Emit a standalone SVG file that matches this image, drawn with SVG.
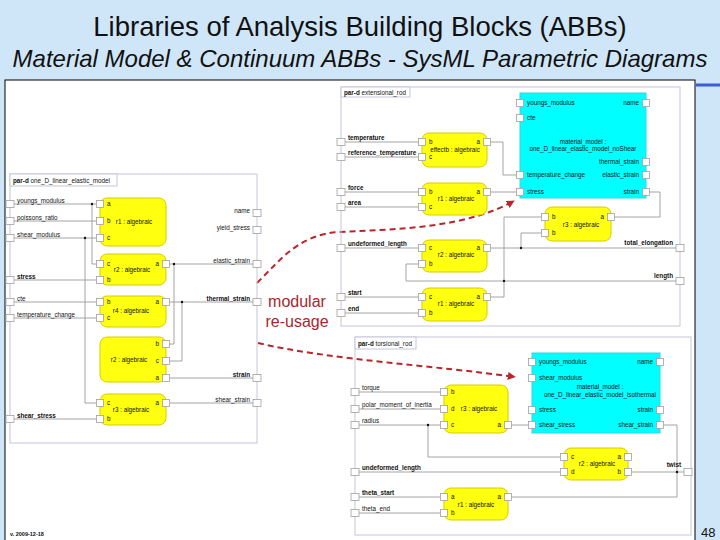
<svg xmlns="http://www.w3.org/2000/svg" width="720" height="540" viewBox="0 0 720 540">
<defs>
<style>
.fr{fill:none;stroke:#c6c6da;stroke-width:1}
.tab{fill:#fff;stroke:#c6c6da;stroke-width:1}
.blk{fill:#ffff10;stroke:#d8cc00;stroke-width:1}
.cy{fill:#00ffff;stroke:#30d8e0;stroke-width:1}
.pt{fill:#fff;stroke:#a0a0a0;stroke-width:0.8}
.w{fill:none;stroke:#9a9a9a;stroke-width:0.9}
.t{font-family:'Liberation Sans',Arial,sans-serif;font-size:6.3px;fill:#111}
.e{text-anchor:end}
.m{text-anchor:middle}
.b{font-weight:bold}
.dot{fill:#111}
.arr{fill:none;stroke:#b8262a;stroke-width:2;stroke-dasharray:6 4}
.red{font-family:'Liberation Sans',Arial,sans-serif;font-size:16px;fill:#a8262c;text-anchor:middle}
</style>
<marker id="ah" viewBox="0 0 10 10" refX="9" refY="5" markerWidth="4" markerHeight="4" orient="auto" markerUnits="strokeWidth"><path d="M0,0 L10,5 L0,10 z" fill="#b8262a"/></marker>
</defs>
<rect x="0" y="0" width="720" height="540" fill="#cfe6f9"/>
<text x="360" y="36" font-family="'Liberation Sans',Arial,sans-serif" font-size="27.5" fill="#111" text-anchor="middle">Libraries of Analysis Building Blocks (ABBs)</text>
<text x="360" y="67" font-family="'Liberation Sans',Arial,sans-serif" font-size="24" font-style="italic" fill="#111" text-anchor="middle">Material Model &amp; Continuum ABBs - SysML Parametric Diagrams</text>
<rect x="5" y="80" width="690" height="470" fill="#fff" stroke="#000" stroke-width="1"/>
<line x1="696" y1="85" x2="720" y2="85" stroke="#3a5fd0" stroke-width="3"/>
<text x="701" y="537" font-family="'Liberation Sans',Arial,sans-serif" font-size="13" fill="#111">48</text>
<text x="10" y="536" font-family="'Liberation Sans',Arial,sans-serif" font-size="5.5" font-weight="bold" fill="#111">v. 2009-12-18</text>

<g id="connectors">
<path class="w" d="M14,204 H96 M92,204 V264 H96 M14,221 H96 M14,238 H96 M85,238 V403 H96 M14,280 H96 M14,302 H96 M14,318 H96 M14,419 H96"/>
<path class="w" d="M170,264 H253 M174,264 V344 H170 M170,302 H253 M182,302 V361 H170 M170,378 H253 M170,403 H253"/>
<circle class="dot" cx="92" cy="204" r="1.2"/><circle class="dot" cx="85" cy="238" r="1.2"/>
<circle class="dot" cx="174" cy="264" r="1.2"/><circle class="dot" cx="182" cy="302" r="1.2"/>
<path class="w" d="M345,142 H418 M345,157 H418 M345,192 H418 M345,207 H418 M345,248 H418 M345,297 H418 M345,313 H418"/>
<path class="w" d="M491,142 H503 V175 H516 M491,192 H516 M650,192 H660 V217 H615 M491,248 H676 M521,248 V233 H541 M418,264 H406 V281 H676 M491,297 H504 V217 H541"/>
<circle class="dot" cx="521" cy="248" r="1.2"/><circle class="dot" cx="504" cy="281" r="1.2"/>
<path class="w" d="M359,392 H440 M359,409 H440 M359,425 H440 M428,425 V457 H560 M359,472 H560 M359,497 H440 M359,513 H440"/>
<path class="w" d="M512,425 H528 M664,425 H677 V497 H512 M632,472 H684"/>
<circle class="dot" cx="428" cy="425" r="1.2"/><circle class="dot" cx="677" cy="472" r="1.2"/>
<path class="arr" marker-end="url(#ah)" d="M257,283 C282,258 300,234 340,232 C400,229 465,228 514,201"/>
<path class="arr" marker-end="url(#ah)" d="M258,343 C330,360 440,366 515,377"/>
</g>
<text class="red" x="297" y="307">modular</text>
<text class="red" x="297" y="327">re-usage</text>

<g id="one_D_linear_elastic_model">
<rect class="fr" x="10" y="174" width="247" height="269"/>
<rect class="tab" x="10" y="174" width="107" height="12"/>
<text class="t" x="13" y="182.5"><tspan class="b">par-d</tspan> one_D_linear_elastic_model</text>
<rect class="pt" x="6" y="200.5" width="8" height="7"/><text class="t" x="17" y="202.5">youngs_modulus</text>
<rect class="pt" x="6" y="217.5" width="8" height="7"/><text class="t" x="17" y="219.5">poissons_ratio</text>
<rect class="pt" x="6" y="234.5" width="8" height="7"/><text class="t" x="17" y="236.5">shear_modulus</text>
<rect class="pt" x="6" y="276.5" width="8" height="7"/><text class="t b" x="17" y="278.5">stress</text>
<rect class="pt" x="6" y="298.5" width="8" height="7"/><text class="t" x="17" y="300.5">cte</text>
<rect class="pt" x="6" y="314.5" width="8" height="7"/><text class="t" x="17" y="316.5">temperature_change</text>
<rect class="pt" x="6" y="415.5" width="8" height="7"/><text class="t b" x="17" y="417.5">shear_stress</text>
<rect class="pt" x="253" y="209.5" width="8" height="7"/><text class="t e" x="250" y="213">name</text>
<rect class="pt" x="253" y="226.5" width="8" height="7"/><text class="t e" x="250" y="230">yield_stress</text>
<rect class="pt" x="253" y="260.5" width="8" height="7"/><text class="t e" x="250" y="262.5">elastic_strain</text>
<rect class="pt" x="253" y="298.5" width="8" height="7"/><text class="t e b" x="250" y="300.5">thermal_strain</text>
<rect class="pt" x="253" y="374.5" width="8" height="7"/><text class="t e b" x="250" y="376.5">strain</text>
<rect class="pt" x="253" y="399.5" width="8" height="7"/><text class="t e" x="250" y="401.5">shear_strain</text>
</g>
<g id="L_r1">
<rect class="blk" x="100" y="198" width="66" height="48" rx="7"/>
<rect class="pt" x="96.5" y="200.5" width="7" height="7"/><text class="t" x="107" y="206">a</text>
<rect class="pt" x="96.5" y="217.5" width="7" height="7"/><text class="t" x="107" y="223">b</text>
<rect class="pt" x="96.5" y="234.5" width="7" height="7"/><text class="t" x="107" y="240">c</text>
<text class="t m" x="134" y="224">r1 : algebraic</text>
</g>
<g id="L_r2">
<rect class="blk" x="100" y="254" width="66" height="31" rx="7"/>
<rect class="pt" x="96.5" y="260.5" width="7" height="7"/><text class="t" x="107" y="266">c</text>
<rect class="pt" x="96.5" y="276.5" width="7" height="7"/><text class="t" x="107" y="282">b</text>
<rect class="pt" x="162.5" y="260.5" width="7" height="7"/><text class="t e" x="159" y="266">a</text>
<text class="t m" x="132" y="272">r2 : algebraic</text>
</g>
<g id="L_r4">
<rect class="blk" x="100" y="296" width="66" height="31" rx="7"/>
<rect class="pt" x="96.5" y="298.5" width="7" height="7"/><text class="t" x="107" y="304">b</text>
<rect class="pt" x="96.5" y="314.5" width="7" height="7"/><text class="t" x="107" y="320">c</text>
<rect class="pt" x="162.5" y="298.5" width="7" height="7"/><text class="t e" x="159" y="304">a</text>
<text class="t m" x="131" y="313">r4 : algebraic</text>
</g>
<g id="L_r3">
<rect class="blk" x="100" y="337" width="66" height="45" rx="7"/>
<rect class="pt" x="162.5" y="340.5" width="7" height="7"/><text class="t e" x="159" y="346">b</text>
<rect class="pt" x="162.5" y="357.5" width="7" height="7"/><text class="t e" x="159" y="363">c</text>
<rect class="pt" x="162.5" y="374.5" width="7" height="7"/><text class="t e" x="159" y="380">a</text>
<text class="t m" x="129" y="362">r2 : algebraic</text>
</g>
<g id="L_r5">
<rect class="blk" x="100" y="394" width="66" height="31" rx="7"/>
<rect class="pt" x="96.5" y="399.5" width="7" height="7"/><text class="t" x="107" y="405">c</text>
<rect class="pt" x="96.5" y="415.5" width="7" height="7"/><text class="t" x="107" y="421">b</text>
<rect class="pt" x="162.5" y="399.5" width="7" height="7"/><text class="t e" x="159" y="405">a</text>
<text class="t m" x="131" y="412">r3 : algebraic</text>
</g>

<g id="extensional_rod">
<rect class="fr" x="341" y="87" width="339" height="239"/>
<rect class="tab" x="341" y="87" width="69" height="10"/>
<text class="t" x="344" y="94.5"><tspan class="b">par-d</tspan> extensional_rod</text>
<rect class="pt" x="337" y="138.5" width="8" height="7"/><text class="t b" x="348" y="140">temperature</text>
<rect class="pt" x="337" y="153.5" width="8" height="7"/><text class="t b" x="348" y="155">reference_temperature</text>
<rect class="pt" x="337" y="188.5" width="8" height="7"/><text class="t b" x="348" y="190">force</text>
<rect class="pt" x="337" y="203.5" width="8" height="7"/><text class="t b" x="348" y="205">area</text>
<rect class="pt" x="337" y="244.5" width="8" height="7"/><text class="t b" x="348" y="246">undeformed_length</text>
<rect class="pt" x="337" y="293.5" width="8" height="7"/><text class="t b" x="348" y="295">start</text>
<rect class="pt" x="337" y="309.5" width="8" height="7"/><text class="t b" x="348" y="311">end</text>
<rect class="pt" x="676" y="244.5" width="8" height="7"/><text class="t e b" x="673" y="245">total_elongation</text>
<rect class="pt" x="676" y="277.5" width="8" height="7"/><text class="t e b" x="673" y="278">length</text>
</g>
<g id="E_effect">
<rect class="blk" x="422" y="133" width="65" height="34" rx="7"/>
<rect class="pt" x="418.5" y="138.5" width="7" height="7"/><text class="t" x="429" y="144">b</text>
<rect class="pt" x="418.5" y="153.5" width="7" height="7"/><text class="t" x="429" y="159">c</text>
<rect class="pt" x="483.5" y="138.5" width="7" height="7"/><text class="t e" x="480" y="144">a</text>
<text class="t m" x="455" y="152">effectb : algebraic</text>
</g>
<g id="E_r1">
<rect class="blk" x="422" y="183" width="65" height="32" rx="7"/>
<rect class="pt" x="418.5" y="188.5" width="7" height="7"/><text class="t" x="429" y="194">b</text>
<rect class="pt" x="418.5" y="203.5" width="7" height="7"/><text class="t" x="429" y="209">c</text>
<rect class="pt" x="483.5" y="188.5" width="7" height="7"/><text class="t e" x="480" y="194">a</text>
<text class="t m" x="456" y="201">r1 : algebraic</text>
</g>
<g id="E_r2">
<rect class="blk" x="422" y="240" width="65" height="32" rx="7"/>
<rect class="pt" x="418.5" y="244.5" width="7" height="7"/><text class="t" x="429" y="250">c</text>
<rect class="pt" x="418.5" y="260.5" width="7" height="7"/><text class="t" x="429" y="266">b</text>
<rect class="pt" x="483.5" y="244.5" width="7" height="7"/><text class="t e" x="480" y="250">a</text>
<text class="t m" x="456" y="257">r2 : algebraic</text>
</g>
<g id="E_r1b">
<rect class="blk" x="422" y="288" width="65" height="33" rx="7"/>
<rect class="pt" x="418.5" y="293.5" width="7" height="7"/><text class="t" x="429" y="299">c</text>
<rect class="pt" x="418.5" y="309.5" width="7" height="7"/><text class="t" x="429" y="315">b</text>
<rect class="pt" x="483.5" y="293.5" width="7" height="7"/><text class="t e" x="480" y="299">a</text>
<text class="t m" x="456" y="306">r1 : algebraic</text>
</g>
<g id="E_r3">
<rect class="blk" x="545" y="207" width="66" height="34" rx="7"/>
<rect class="pt" x="541.5" y="213.5" width="7" height="7" stroke="#223388"/><text class="t" x="552" y="219">b</text>
<rect class="pt" x="541.5" y="229.5" width="7" height="7" stroke="#223388"/><text class="t" x="552" y="235">b</text>
<rect class="pt" x="607.5" y="213.5" width="7" height="7"/><text class="t e" x="604" y="219">a</text>
<text class="t m" x="581" y="227">r3 : algebraic</text>
</g>
<g id="E_material_model">
<rect class="cy" x="520" y="93" width="126" height="105"/>
<rect class="pt" x="516.5" y="99.5" width="7" height="7"/><text class="t" x="527" y="105">youngs_modulus</text>
<rect class="pt" x="516.5" y="114.5" width="7" height="7"/><text class="t" x="527" y="120">cte</text>
<rect class="pt" x="516.5" y="171.5" width="7" height="7"/><text class="t" x="527" y="177">temperature_change</text>
<rect class="pt" x="516.5" y="188.5" width="7" height="7"/><text class="t" x="527" y="194">stress</text>
<rect class="pt" x="642.5" y="99.5" width="7" height="7"/><text class="t e" x="639" y="105">name</text>
<rect class="pt" x="642.5" y="158.5" width="7" height="7"/><text class="t e" x="639" y="164">thermal_strain</text>
<rect class="pt" x="642.5" y="171.5" width="7" height="7"/><text class="t e" x="639" y="177">elastic_strain</text>
<rect class="pt" x="642.5" y="188.5" width="7" height="7"/><text class="t e" x="639" y="194">strain</text>
<text class="t m" x="583" y="144">material_model :</text>
<text class="t m" x="583" y="151">one_D_linear_elastic_model_noShear</text>
</g>

<g id="torsional_rod">
<rect class="fr" x="355" y="337" width="336" height="198"/>
<rect class="tab" x="355" y="337" width="61" height="12"/>
<text class="t" x="358" y="345.5"><tspan class="b">par-d</tspan> torsional_rod</text>
<rect class="pt" x="351" y="388.5" width="8" height="7"/><text class="t" x="362" y="390">torque</text>
<rect class="pt" x="351" y="405.5" width="8" height="7"/><text class="t" x="362" y="407">polar_moment_of_inertia</text>
<rect class="pt" x="351" y="421.5" width="8" height="7"/><text class="t" x="362" y="423">radius</text>
<rect class="pt" x="351" y="468.5" width="8" height="7"/><text class="t b" x="362" y="470">undeformed_length</text>
<rect class="pt" x="351" y="493.5" width="8" height="7"/><text class="t b" x="362" y="495">theta_start</text>
<rect class="pt" x="351" y="509.5" width="8" height="7"/><text class="t" x="362" y="511">theta_end</text>
<rect class="pt" x="684" y="468.5" width="8" height="7"/><text class="t e b" x="681" y="467">twist</text>
</g>
<g id="T_r3">
<rect class="blk" x="444" y="385" width="64" height="48" rx="7"/>
<rect class="pt" x="440.5" y="388.5" width="7" height="7"/><text class="t" x="451" y="394">b</text>
<rect class="pt" x="440.5" y="405.5" width="7" height="7"/><text class="t" x="451" y="411">d</text>
<rect class="pt" x="440.5" y="421.5" width="7" height="7"/><text class="t" x="451" y="427">c</text>
<rect class="pt" x="504.5" y="421.5" width="7" height="7"/><text class="t e" x="501" y="427">a</text>
<text class="t m" x="479" y="411">r3 : algebraic</text>
</g>
<g id="T_r2">
<rect class="blk" x="564" y="448" width="64" height="32" rx="7"/>
<rect class="pt" x="560.5" y="453.5" width="7" height="7"/><text class="t" x="571" y="459">c</text>
<rect class="pt" x="560.5" y="468.5" width="7" height="7"/><text class="t" x="571" y="474">d</text>
<rect class="pt" x="624.5" y="453.5" width="7" height="7"/><text class="t e" x="621" y="459">a</text>
<rect class="pt" x="624.5" y="468.5" width="7" height="7"/><text class="t e" x="621" y="474">b</text>
<text class="t m" x="597" y="466">r2 : algebraic</text>
</g>
<g id="T_r1">
<rect class="blk" x="444" y="488" width="64" height="32" rx="7"/>
<rect class="pt" x="440.5" y="493.5" width="7" height="7"/><text class="t" x="451" y="499">a</text>
<rect class="pt" x="440.5" y="509.5" width="7" height="7"/><text class="t" x="451" y="515">b</text>
<rect class="pt" x="504.5" y="493.5" width="7" height="7"/><text class="t e" x="501" y="499">a</text>
<text class="t m" x="476" y="507">r1 : algebraic</text>
</g>
<g id="T_material_model">
<rect class="cy" x="532" y="353" width="128" height="80"/>
<rect class="pt" x="528.5" y="358.5" width="7" height="7"/><text class="t" x="539" y="364">youngs_modulus</text>
<rect class="pt" x="528.5" y="374.5" width="7" height="7"/><text class="t" x="539" y="380">shear_modulus</text>
<rect class="pt" x="528.5" y="406.5" width="7" height="7"/><text class="t" x="539" y="412">stress</text>
<rect class="pt" x="528.5" y="421.5" width="7" height="7"/><text class="t" x="539" y="427">shear_stress</text>
<rect class="pt" x="656.5" y="358.5" width="7" height="7"/><text class="t e" x="653" y="364">name</text>
<rect class="pt" x="656.5" y="406.5" width="7" height="7"/><text class="t e" x="653" y="412">strain</text>
<rect class="pt" x="656.5" y="421.5" width="7" height="7"/><text class="t e" x="653" y="427">shear_strain</text>
<text class="t m" x="600" y="389">material_model :</text>
<text class="t m" x="600" y="397">one_D_linear_elastic_model_isothermal</text>
</g>
</svg>
